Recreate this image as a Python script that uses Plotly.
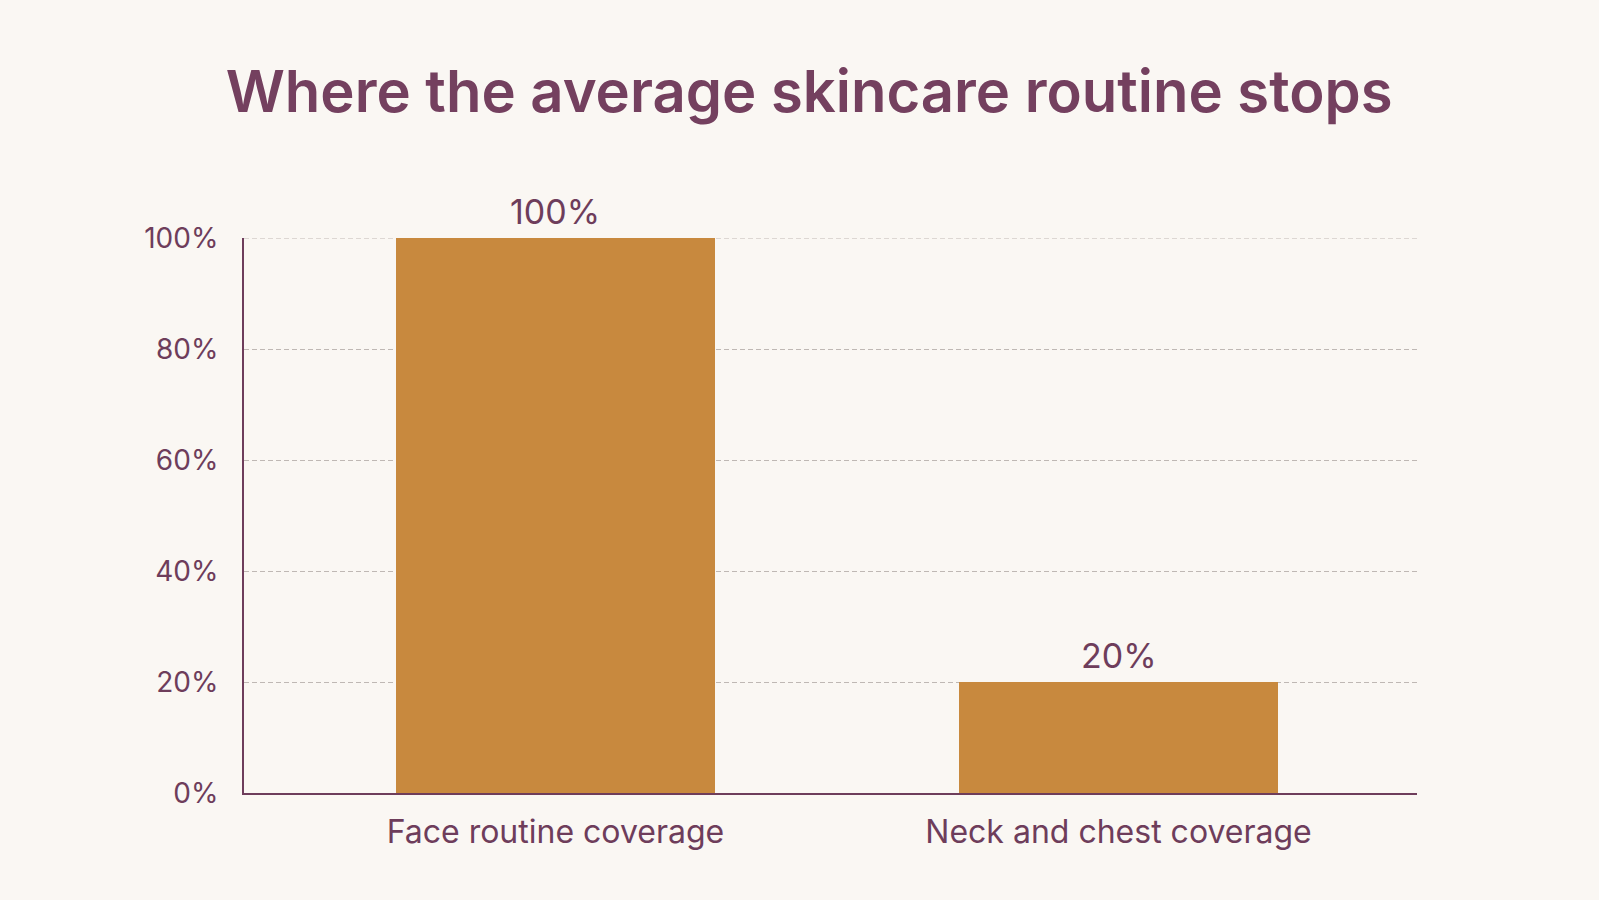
import plotly.graph_objects as go

categories = ["Face routine coverage", "Neck and chest coverage"]
coverage = [100, 20]
y_ticks = [0, 20, 40, 60, 80, 100]
y_tick_text = ["0%", "20%", "40%", "60%", "80%", "100%"]

plum = "#6E3D5B"
bar_color = "#C8893E"
bg = "#FAF7F3"
grid_color = "#BFB8B4"
font_name = "Inter"

fig = go.Figure()
fig.add_trace(go.Bar(
    x=[0, 1],
    y=coverage,
    width=0.565,
    marker=dict(color=bar_color, line=dict(width=0)),
    hoverinfo="skip",
))

# value labels above each bar
for i, v in enumerate(coverage):
    fig.add_annotation(x=i, y=v, text=f"{v}%", showarrow=False,
                       yanchor="bottom", yshift=4,
                       font=dict(family=font_name, size=34, color=plum))

# plotly drops the gridline at the top edge, draw it by hand
fig.add_shape(type="line", xref="paper", yref="y", x0=0, x1=1,
              y0=y_ticks[-1], y1=y_ticks[-1], layer="below",
              line=dict(color=grid_color, width=1, dash="5px,3px"))

fig.update_layout(
    width=1599, height=900,
    paper_bgcolor=bg, plot_bgcolor=bg,
    margin=dict(l=244, r=182, t=238, b=107),
    showlegend=False,
    bargap=0,
    title=dict(text="Where the average skincare routine stops",
               x=0.506, xref="container", xanchor="center",
               y=1 - 92 / 900, yref="container", yanchor="middle",
               font=dict(family=font_name, size=58, color="#74405F", weight=600)),
    font=dict(family=font_name, color=plum),
)
fig.update_xaxes(
    range=[-0.553, 1.53],
    tickvals=[0, 1], ticktext=categories,
    tickfont=dict(family=font_name, size=32, color=plum),
    showgrid=False, zeroline=False,
    showline=True, linecolor=plum, linewidth=2,
    ticks="", ticklen=0, ticklabelstandoff=10,
)
fig.update_yaxes(
    range=[0, 100],
    tickvals=y_ticks, ticktext=y_tick_text,
    tickfont=dict(family=font_name, size=28, color=plum),
    showgrid=True, gridcolor=grid_color, gridwidth=1, griddash="5px,3px",
    zeroline=False,
    showline=True, linecolor=plum, linewidth=2,
    ticks="", ticklabelstandoff=18,
)

fig.write_html("out.html", config={"displayModeBar": False},
               post_script="document.body.style.margin='0';document.body.style.overflow='hidden';")
